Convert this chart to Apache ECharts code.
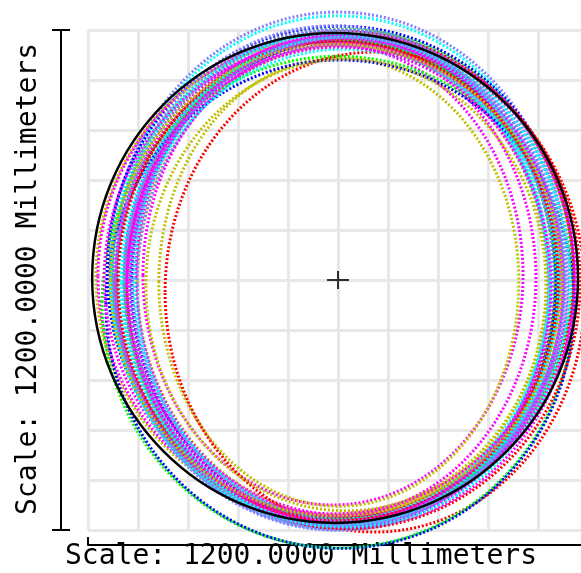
<!DOCTYPE html>
<html>
<head>
<meta charset="utf-8">
<script src="https://cdn.jsdelivr.net/npm/echarts@6/dist/echarts.min.js"></script>
<style>
  html, body { margin: 0; padding: 0; background: #fff; }
  #chart { width: 581px; height: 573px; }
</style>
</head>
<body>
<div id="chart"></div>
<script>
// Scale: 1200 mm across the plotting square, centre at (0, 0)
const axisMin = -600;
const axisMax = 600;
const gridStep = 120;

const palette = ["#ff0000", "#00ff00", "#0000ff", "#ff00ff", "#00ffff", "#bfbf00", "#8080ff"];

// one entry per traced ellipse (mm)
const ellipseColor = [6, 4, 2, 1, 0, 3, 5, 3, 6, 4, 3, 6, 4, 5, 0, 3, 6, 2, 1, 4, 3, 5, 0, 1, 2, 6, 3, 0, 5, 6, 4, 3, 6,
  3, 6, 4, 3, 6, 0, 4, 3, 6, 5];
const centerX = [0, 0, 5, 10, 14, 29, -24, -10, -5, -2, 5, 0, 2, 10, 7, -5, 12, 14, 5, 10, -12, 2, 89, 0, 5, 17, -14, 24, 19, 7, 14, 34, 5,
  0, 10, -7, 17, -12, 0, 19, 2, 24, -5];
const centerY = [24, 22, 19, 14, 10, 10, 7, 10, 0, -2, 2, -5, -7, -2, 0, 5, -10, -5, -7, 2, 12, -5, -29, -53, -58, 0, 5, -7, -12, -14, -17, -2, -10,
  2, 5, 2, -7, 10, -2, -5, -12, 2, 0];
const radiusX = [547, 542, 559, 552, 552, 542, 557, 566, 533, 523, 516, 509, 504, 492, 514, 480, 494, 509, 518, 499, 456, 432, 504, 566, 562, 528, 547, 557, 480, 523, 514, 533, 538,
  533, 542, 538, 523, 528, 528, 538, 509, 518, 542];
const radiusY = [619, 612, 590, 588, 586, 576, 571, 576, 600, 595, 586, 590, 586, 566, 571, 571, 576, 581, 583, 576, 552, 538, 576, 590, 586, 586, 566, 590, 542, 576, 571, 590, 590,
  581, 595, 590, 586, 600, 576, 588, 571, 581, 566];

// reference ellipse (solid black)
const refEllipse = [[-7, 5, 583, 588]];
const centerMark = [[0, 0]];

const chart = echarts.init(document.getElementById("chart"), null, { renderer: "canvas" });

const ellipseData = ellipseColor.map((c, i) => [centerX[i], centerY[i], radiusX[i], radiusY[i], c]);

function ellipseItem(dashed) {
  return function (params, api) {
    const c = api.coord([api.value(0), api.value(1)]);
    const s = api.size([api.value(2), api.value(3)]);
    return {
      type: "ellipse",
      shape: { cx: c[0], cy: c[1], rx: s[0], ry: s[1] },
      style: dashed
        ? { fill: "none", stroke: palette[api.value(4)], lineWidth: 3, lineDash: [2, 2] }
        : { fill: "none", stroke: "#000", lineWidth: 2.5 },
    };
  };
}

const plainAxis = {
  type: "value",
  min: axisMin,
  max: axisMax,
  interval: gridStep,
  axisLine: { show: false },
  axisTick: { show: false },
  axisLabel: { show: false },
  splitLine: { show: true, lineStyle: { color: "#e8e8e8", width: 3 } },
};

function frameAxis(extra) {
  return Object.assign({
    type: "value",
    min: axisMin,
    max: axisMax,
    interval: axisMax - axisMin,
    axisLine: { show: true, onZero: false, lineStyle: { color: "#000", width: 2 } },
    axisLabel: { show: false },
    splitLine: { show: false },
  }, extra);
}

const labelFont = '28px "DejaVu Sans Mono", monospace';

chart.setOption({
  backgroundColor: "#fff",
  animation: false,
  grid: { left: 88, top: 30, width: 500, height: 500, outerBoundsMode: "none" },
  xAxis: [
    plainAxis,
    frameAxis({ position: "bottom", offset: 15,
      axisTick: { show: true, inside: true, length: 8, lineStyle: { color: "#000", width: 2 } } }),
  ],
  yAxis: [
    plainAxis,
    frameAxis({ position: "left", offset: 27,
      axisTick: { show: true, inside: false, length: 9, lineStyle: { color: "#000", width: 2 } } }),
    frameAxis({ position: "left", offset: 27,
      axisTick: { show: true, inside: true, length: 9, lineStyle: { color: "#000", width: 2 } } }),
  ],
  graphic: [
    {
      type: "text", x: 29, y: 279, rotation: Math.PI / 2,
      style: { text: "Scale: 1200.0000 Millimeters", font: labelFont, fill: "#000",
        align: "center", verticalAlign: "middle" },
    },
    {
      type: "text", x: 301, y: 557,
      style: { text: "Scale: 1200.0000 Millimeters", font: labelFont, fill: "#000",
        align: "center", verticalAlign: "middle" },
    },
  ],
  series: [
    {
      type: "custom",
      xAxisIndex: 0, yAxisIndex: 0,
      renderItem: ellipseItem(true),
      data: ellipseData,
      silent: true,
    },
    {
      type: "custom",
      xAxisIndex: 0, yAxisIndex: 0,
      renderItem: ellipseItem(false),
      data: refEllipse,
      silent: true,
    },
    {
      type: "scatter",
      xAxisIndex: 0, yAxisIndex: 0,
      symbol: "path://M0,8h22v2h-22z M10,0h2v18h-2z",
      symbolSize: [22, 18],
      itemStyle: { color: "#000" },
      data: centerMark,
      silent: true,
    },
  ],
});

window.addEventListener("resize", () => chart.resize());
</script>
</body>
</html>
